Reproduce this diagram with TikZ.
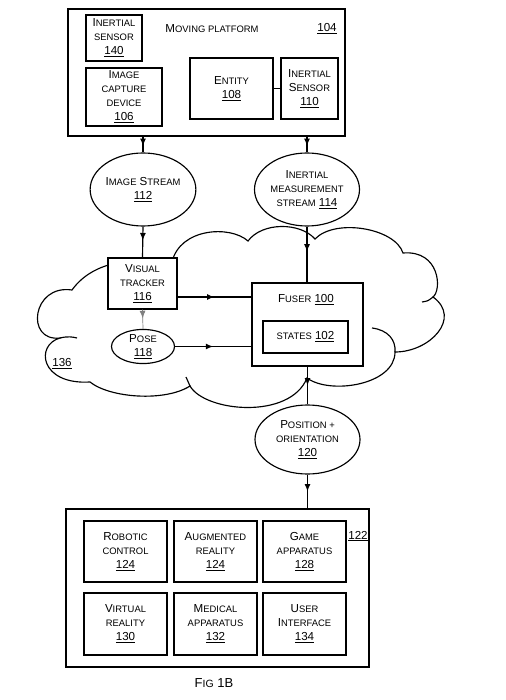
\documentclass[tikz,border=0pt]{standalone}
\usepackage{fontspec}
\setmainfont{Liberation Sans}
\usetikzlibrary{shapes.geometric,decorations.markings,arrows.meta,calc}
\newcommand\sm[1]{{\fontsize{9.4}{14}\selectfont #1}}
\newcommand\ul[1]{\underline{#1}}
\begin{document}
\begin{tikzpicture}[x=1pt,y=-1pt, line width=1.15pt,
  every node/.style={font=\fontsize{11.6}{14}\selectfont, align=center, inner sep=0pt},
  box/.style={draw, fill=white, rectangle},
  oval/.style={draw, fill=white, ellipse},
  midarrow/.style={postaction={decorate}, decoration={markings, mark=at position #1 with {\arrow{Latex[length=7.5pt,width=6pt]}}}},
  midarrow/.default=0.5]
\useasboundingbox (0,0) rectangle (505,700);

% cloud 136
\draw[fill=white] (72,290)
 .. controls (32,284) and (25,342) .. (60,338)
 .. controls (35,345) and (40,385) .. (90,382)
 .. controls (110,398) and (165,402) .. (190,386)
 .. controls (205,412) and (290,420) .. (307,378)
 .. controls (330,395) and (395,385) .. (395,352)
 .. controls (430,352) and (462,318) .. (433,297)
 .. controls (442,290) and (440,250) .. (403,253)
 .. controls (395,228) and (335,218) .. (315,239)
 .. controls (300,222) and (262,222) .. (248,241)
 .. controls (230,225) and (180,228) .. (172,262)
 .. controls (140,258) and (95,258) .. (72,290) -- cycle;
\draw (60,338) .. controls (68,336) and (73,337) .. (77,338);
\draw (190,386) .. controls (188,382) .. (186,377);
\draw (372,328) .. controls (388,330) and (396,340) .. (395,352);
\draw (422,302) .. controls (428,301) .. (433,297);
\node at (62,364) {\ul{136}};

% moving platform
\node[box, minimum width=277pt, minimum height=127pt] (plat) at (206.5,72.5) {};
\node (platlbl) at (212,29) {M\sm{OVING PLATFORM}};
\node (platnum) at (327,29) {\ul{104}};
\node[box, minimum width=56pt, minimum height=46pt] (s140) at (114,38) {I\sm{NERTIAL}\\\sm{SENSOR}\\\ul{140}};
\node[box, minimum width=76pt, minimum height=58pt] (cap) at (124,97) {I\sm{MAGE}\\\sm{CAPTURE}\\\sm{DEVICE}\\\ul{106}};
\node[box, minimum width=83pt, minimum height=61pt] (ent) at (231.5,88.5) {E\sm{NTITY}\\\ul{108}};
\node[box, minimum width=57pt, minimum height=61pt] (s110) at (309.5,88.5) {I\sm{NERTIAL}\\S\sm{ENSOR}\\\ul{110}};
\draw (ent.east) -- (s110.west);

% streams
\node[oval, minimum width=105pt, minimum height=73pt] (img) at (143,189.5) {I\sm{MAGE} S\sm{TREAM}\\\ul{112}};
\node[oval, minimum width=105pt, minimum height=73pt] (ims) at (307,189.5) {I\sm{NERTIAL}\\\sm{MEASUREMENT}\\\sm{STREAM} \ul{114}};

% inside cloud
\node[box, minimum width=69pt, minimum height=51pt] (trk) at (142.5,283.5) {V\sm{ISUAL}\\\sm{TRACKER}\\\ul{116}};
\node[oval, minimum width=63pt, minimum height=33pt] (pose) at (143,346.5) {P\sm{OSE}\\\ul{118}};
\node[box, minimum width=111pt, minimum height=83pt] (fus) at (307.5,324.5) {};
\node (fuslbl) at (306,300) {F\sm{USER} \ul{100}};
\node[box, minimum width=85pt, minimum height=32pt] (st) at (305.5,337) {\sm{STATES} \ul{102}};

% position
\node[oval, minimum width=105pt, minimum height=69pt] (pos) at (307.5,439.5) {P\sm{OSITION +}\\\sm{ORIENTATION}\\\ul{120}};

% applications
\node[box, minimum width=303pt, minimum height=158pt] (apps) at (217.5,588) {};
\node (appsnum) at (358,536) {\ul{122}};
\node[box, minimum width=83pt, minimum height=61pt] (a1) at (125.5,551.5) {R\sm{OBOTIC}\\\sm{CONTROL}\\\ul{124}};
\node[box, minimum width=83pt, minimum height=61pt] (a2) at (215.5,551.5) {A\sm{UGMENTED}\\\sm{REALITY}\\\ul{124}};
\node[box, minimum width=83pt, minimum height=61pt] (a3) at (304.5,551.5) {G\sm{AME}\\\sm{APPARATUS}\\\ul{128}};
\node[box, minimum width=83pt, minimum height=62pt] (a4) at (125.5,624) {V\sm{IRTUAL}\\\sm{REALITY}\\\ul{130}};
\node[box, minimum width=83pt, minimum height=62pt] (a5) at (215.5,624) {M\sm{EDICAL}\\\sm{APPARATUS}\\\ul{132}};
\node[box, minimum width=83pt, minimum height=62pt] (a6) at (304.5,624) {U\sm{SER}\\I\sm{NTERFACE}\\\ul{134}};

\node (fig) at (214,683) {\fontsize{13}{15}\selectfont F{\fontsize{10.5}{15}\selectfont IG} 1B};

% connectors
\draw[midarrow=0.6] (img.north |- plat.south) -- (img.north);
\draw[midarrow=0.6] (ims.north |- plat.south) -- (ims.north);
\draw[midarrow=0.45] (img.south) -- (trk.north);
\draw[midarrow=0.45] (ims.south) -- (ims.south |- fus.north);
\draw[midarrow=0.5] ([yshift=-13.5pt]trk.east) -- ([yshift=-13.5pt]trk.east -| fus.west);
\draw[midarrow=0.5] (pose.east) -- (pose.east -| fus.west);
\draw[line width=0.7pt, draw=gray, midarrow=0.45] (trk.south) -- (pose.north);
\draw[midarrow=0.5] (fus.south) -- (pos.north);
\draw[midarrow=0.5] (pos.south) -- (pos.south |- apps.north);
\end{tikzpicture}
\end{document}
